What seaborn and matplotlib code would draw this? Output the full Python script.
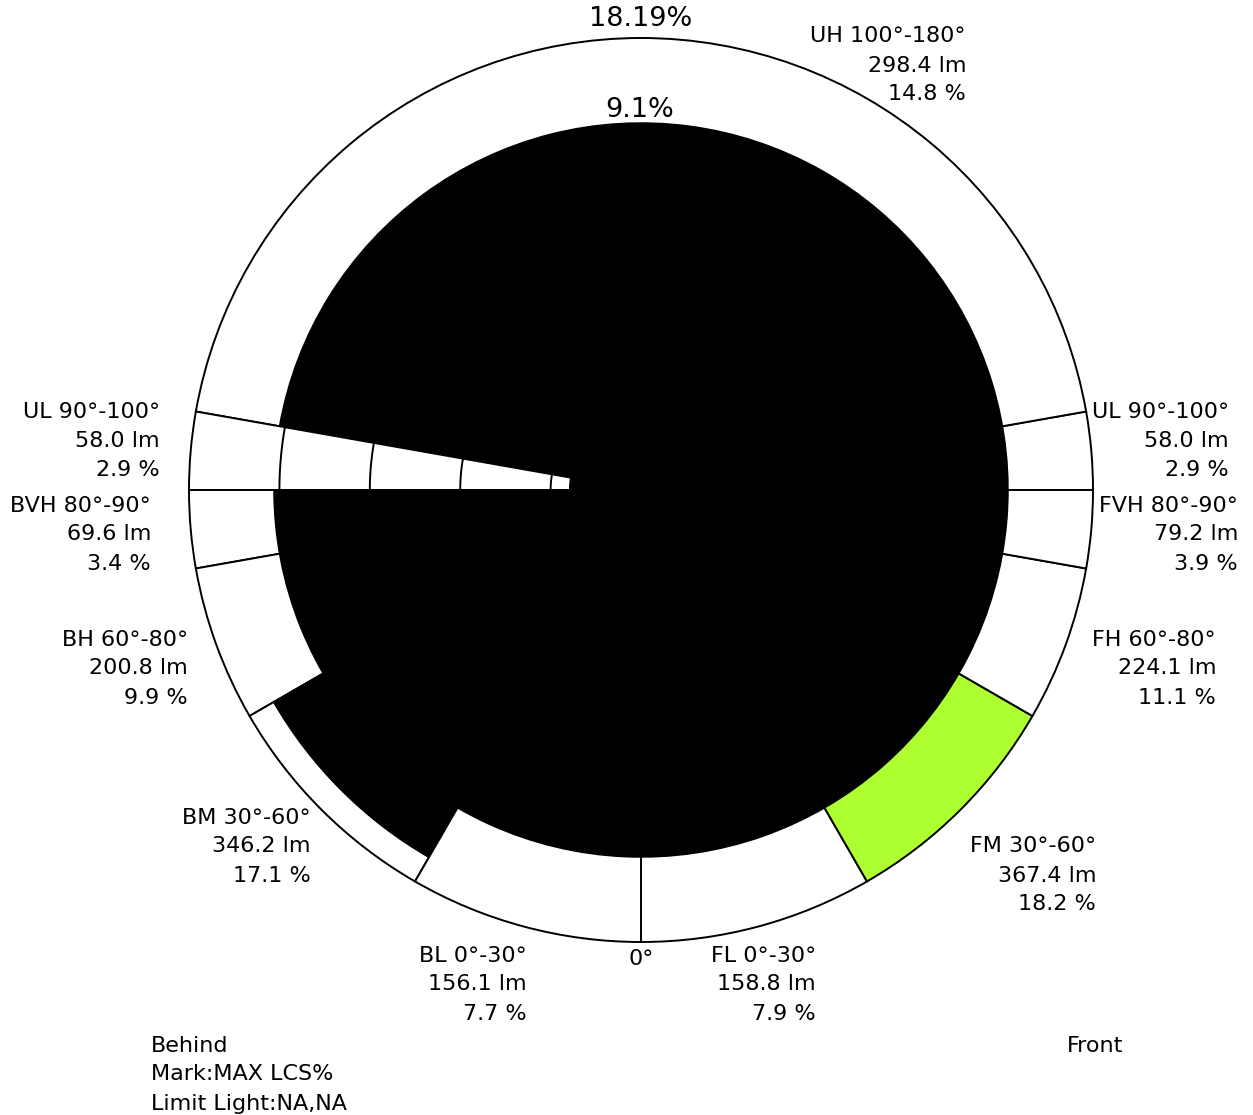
import numpy as np
import matplotlib
matplotlib.use("Agg")
import matplotlib.pyplot as plt
import seaborn as sns

# ---- data ----
zone_names = ["FL", "FM", "FH", "FVH", "UL", "UH", "UL", "BVH", "BH", "BM", "BL"]
zone_side = ["F", "F", "F", "F", "F", "U", "B", "B", "B", "B", "B"]
zone_start = [0, 30, 60, 80, 90, 100, 90, 80, 60, 30, 0]
zone_end = [30, 60, 80, 90, 100, 180, 100, 90, 80, 60, 30]
zone_lm = [158.8, 367.4, 224.1, 79.2, 58.0, 298.4, 58.0, 69.6, 200.8, 346.2, 156.1]
zone_pct = [7.9, 18.2, 11.1, 3.9, 2.9, 14.8, 2.9, 3.4, 9.9, 17.1, 7.7]
max_lcs = 18.19
half_label = "9.1%"
max_label = "18.19%"
grid_steps = 5

W, H, DPI = 1253, 1115, 100
sns.set_theme(style="white")
plt.rcParams["font.family"] = ["DejaVu Sans"]

fig = plt.figure(figsize=(W / DPI, H / DPI), dpi=DPI)
cx, cy, R = 641, 490, 452
ax = fig.add_axes([(cx - R) / W, (H - cy - R) / H, 2 * R / W, 2 * R / H], projection="polar")
ax.set_theta_zero_location("S")
ax.set_theta_direction(1)
ax.set_rlim(0, max_lcs)
ax.axis("off")


def span(side, a, b):
    """Return polar (theta0, theta1) in degrees for a zone."""
    if side == "F":
        return a, b
    if side == "B":
        return 360 - b, 360 - a
    return a, 360 - a  # UH spans both sides


spans = [span(s, a, b) for s, a, b in zip(zone_side, zone_start, zone_end)]
imax = int(np.argmax(zone_pct))

# white zone outlines to the max radius
for i, (t0, t1) in enumerate(spans):
    fc = "#adff2f" if i == imax else "white"
    ax.bar(np.deg2rad((t0 + t1) / 2), max_lcs, width=np.deg2rad(t1 - t0), bottom=0,
           color=fc, edgecolor="black", linewidth=1.4, align="center", zorder=1, clip_on=False)

# grid rings
th = np.linspace(0, 2 * np.pi, 721)
for k in range(1, grid_steps):
    ax.plot(th, np.full_like(th, max_lcs * k / grid_steps), color="black", lw=1.4, zorder=2)

# black zone bars (radius = zone percentage)
for i, (t0, t1) in enumerate(spans):
    if i == imax:
        continue
    if zone_side[i] == "U":
        # upper-hemisphere fill sweeps round everything except the behind UL zone
        b_ul = spans[6]
        t0, t1 = b_ul[1], b_ul[0] + 360
    ax.bar(np.deg2rad((t0 + t1) / 2), zone_pct[i], width=np.deg2rad(t1 - t0), bottom=0,
           color="black", edgecolor="none", linewidth=0, align="center", zorder=3)

# ---- texts ----
def ftext(x, y, s, **kw):
    kw.setdefault("fontsize", 16)
    kw.setdefault("color", "black")
    fig.text(x / W, 1 - y / H, s, **kw)

ftext(cx, 26, max_label, ha="center", va="baseline", fontsize=19.5)
ftext(cx - 1, 117, half_label, ha="center", va="baseline", fontsize=19.5)

label_pos = {  # zone index -> (right x, first line centre y)
    0: (816, 954), 1: (1096, 845), 2: (1216, 638), 3: (1238, 504), 4: (1229, 411),
    5: (966, 35), 6: (160, 411), 7: (151, 504), 8: (188, 638), 9: (311, 816), 10: (527, 954),
}
for i, (xr, y0) in label_pos.items():
    lines = [f"{zone_names[i]} {zone_start[i]}°-{zone_end[i]}°",
             f"{zone_lm[i]:.1f} lm", f"{zone_pct[i]:.1f} %"]
    for j, s in enumerate(lines):
        ftext(xr, y0 + 7.5 + j * 29, s, ha="right", va="baseline")

ftext(cx, 965, "0°", ha="center", va="baseline")
for j, s in enumerate(["Behind", "Mark:MAX LCS%", "Limit Light:NA,NA"]):
    ftext(151, 1044 + 7.5 + j * 29, s, ha="left", va="baseline")
ftext(1067, 1051.5, "Front", ha="left", va="baseline")

fig.savefig("out.png", dpi=DPI, facecolor="white")
